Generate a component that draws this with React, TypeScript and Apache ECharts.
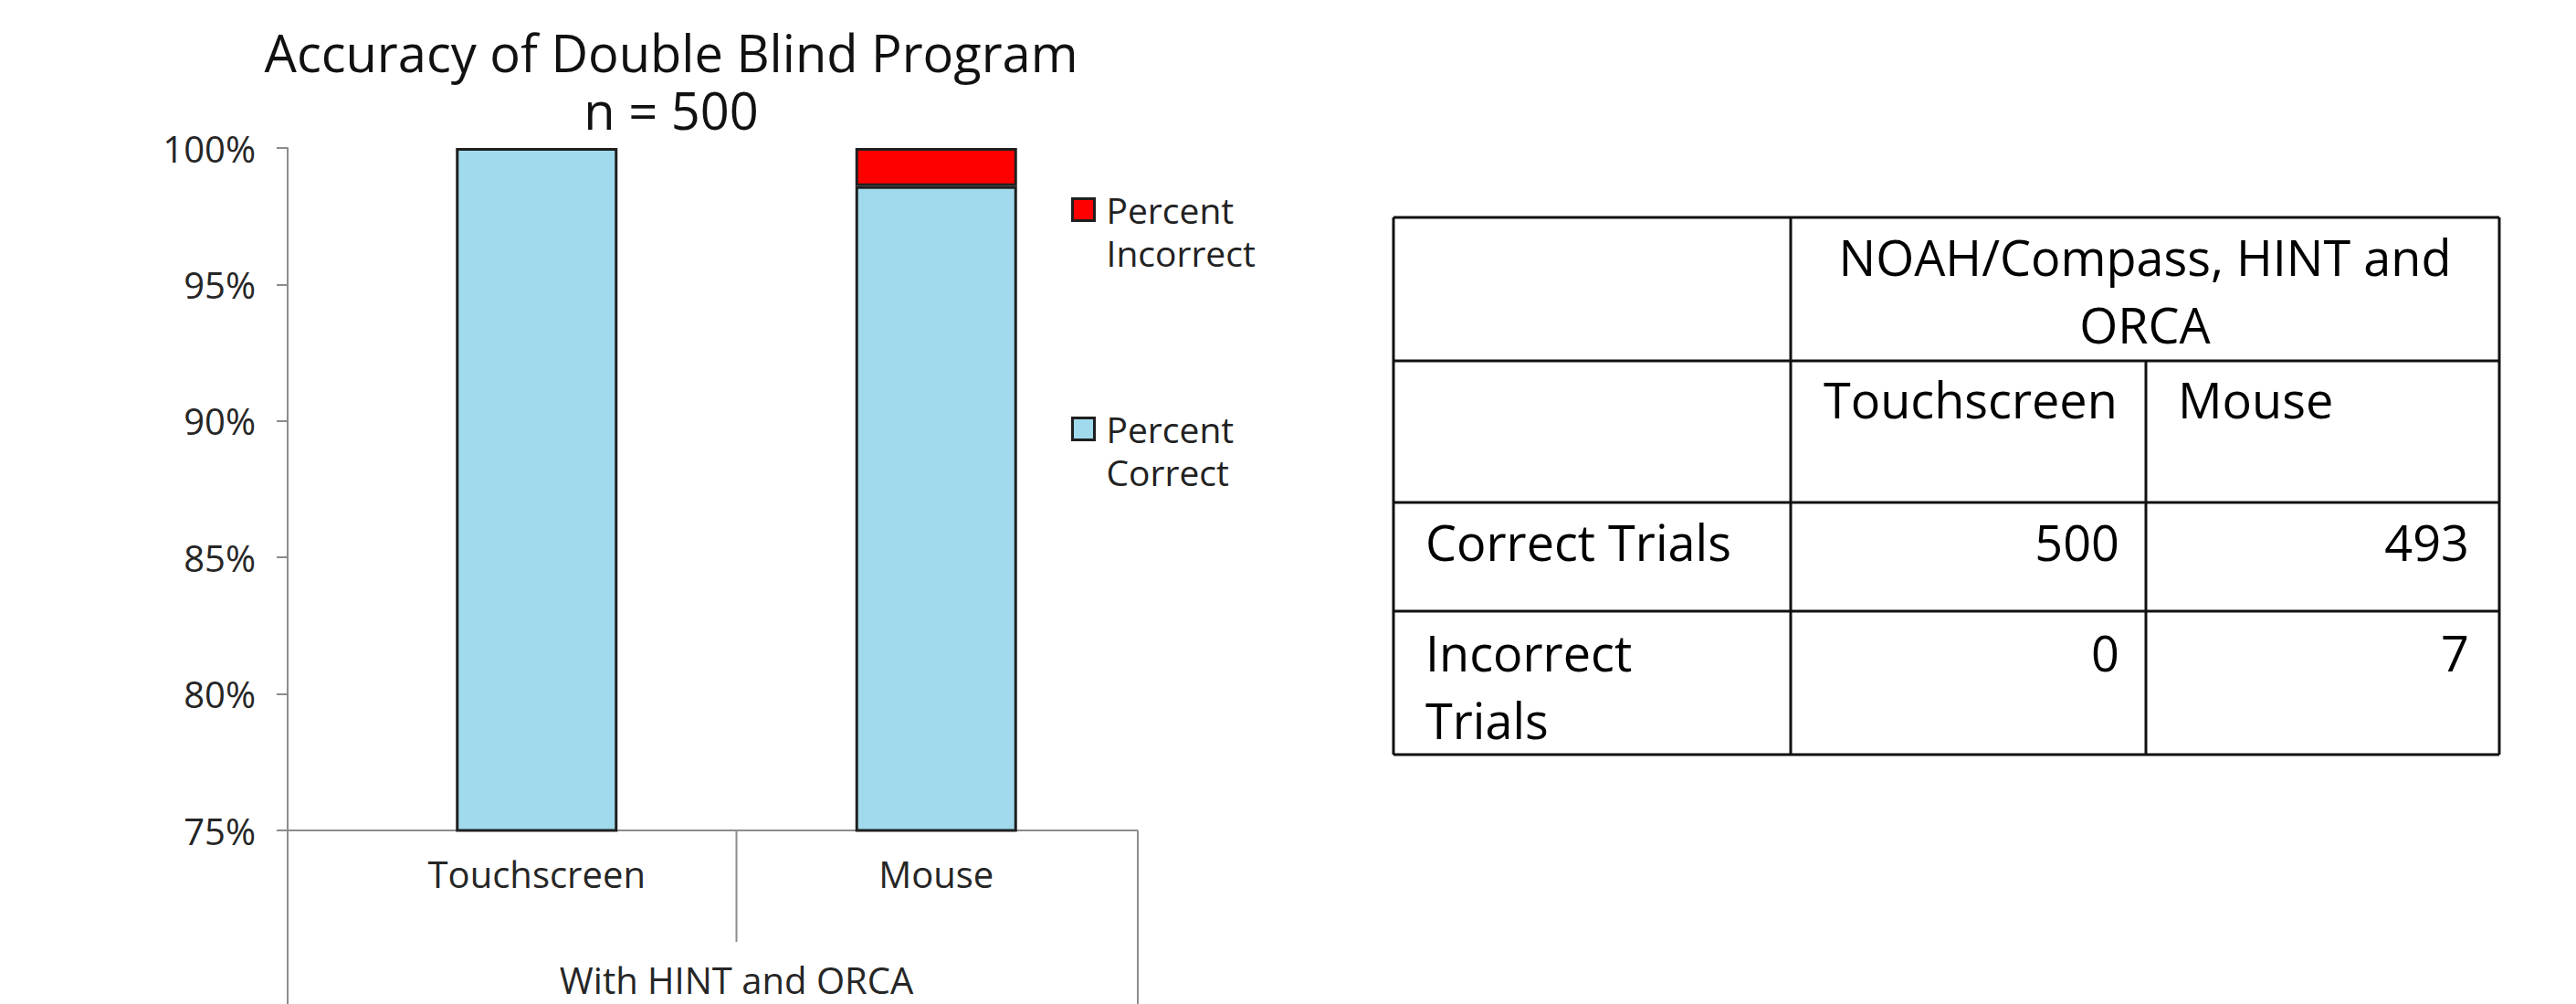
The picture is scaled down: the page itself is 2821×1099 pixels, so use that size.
import React, { useEffect, useRef } from 'react';
import * as echarts from 'echarts';

// ---------- data ----------
const categories = ['Touchscreen', 'Mouse'];
const percentCorrect = [100, 98.6];
const percentIncorrect = [0, 1.4];
const legendNames = ['Percent Incorrect', 'Percent Correct'];
const titleLines = ['Accuracy of Double Blind Program', 'n = 500'];
const groupLabel = 'With HINT and ORCA';
const yMin = 75;
const yMax = 100;
const yStep = 5;

const tableGroupHeader = 'NOAH/Compass, HINT and\nORCA';
const tableColumns = ['Touchscreen', 'Mouse'];
const tableRowLabels = ['Correct Trials', 'Incorrect\nTrials'];
const touchscreenTrials = [500, 0];
const mouseTrials = [493, 7];

// ---------- layout ----------
const W = 2821;
const H = 1099;
const FONT = "'Open Sans', 'Noto Sans', sans-serif";
const GRID = { left: 369, top: 162, right: 1244, bottom: 909 };
const YAXIS_X = 315;
const FRAME_RIGHT = 1246;
const DIVIDER_BOTTOM = 1031;
const AXIS_GRAY = '#8c8c8c';
const LABEL_COLOR = '#262626';
const BORDER = '#1f1f1f';

const TABLE = {
  left: 1526,
  right: 2737,
  top: 238,
  bottom: 826,
  col1: 1961,
  col2: 2350,
  rows: [395, 550, 669],
};
const TABLE_FONT = 54;
const TABLE_LH = 74;

function line(x1: number, y1: number, x2: number, y2: number, color: string, w: number) {
  return {
    type: 'line',
    shape: { x1, y1, x2, y2 },
    style: { stroke: color, lineWidth: w },
    silent: true,
  };
}

function text(
  str: string,
  x: number,
  y: number,
  align: string,
  size: number,
  color: string,
  lineHeight?: number
) {
  return {
    type: 'text',
    x,
    y,
    silent: true,
    style: {
      text: str,
      fontFamily: FONT,
      fontSize: size,
      lineHeight: lineHeight || size,
      fill: color,
      align,
      textAlign: align,
      verticalAlign: 'middle',
      textVerticalAlign: 'middle',
    },
  };
}

export default function App() {
  const ref = useRef<HTMLDivElement>(null);

  useEffect(() => {
    if (!ref.current) return;
    const chart = echarts.init(ref.current, undefined, { renderer: 'svg' });

    const dividerX = GRID.left + (GRID.right - GRID.left) / 2;
    const titleX = 735;

    const graphics: any[] = [
      // title
      text(titleLines[0], titleX, 57, 'center', 56, '#111'),
      text(titleLines[1], titleX, 120, 'center', 56, '#111'),
      // multi-level category frame
      line(YAXIS_X, GRID.bottom, FRAME_RIGHT, GRID.bottom, AXIS_GRAY, 2),
      line(YAXIS_X, GRID.bottom, YAXIS_X, H, AXIS_GRAY, 2),
      line(dividerX, GRID.bottom, dividerX, DIVIDER_BOTTOM, AXIS_GRAY, 2),
      line(FRAME_RIGHT, GRID.bottom, FRAME_RIGHT, H, AXIS_GRAY, 2),
      // table grid
      line(TABLE.left, TABLE.top, TABLE.right, TABLE.top, '#111', 3),
      line(TABLE.left, TABLE.bottom, TABLE.right, TABLE.bottom, '#111', 3),
      line(TABLE.left, TABLE.top, TABLE.left, TABLE.bottom, '#111', 3),
      line(TABLE.right, TABLE.top, TABLE.right, TABLE.bottom, '#111', 3),
      line(TABLE.col1, TABLE.top, TABLE.col1, TABLE.bottom, '#111', 3),
      line(TABLE.col2, TABLE.rows[0], TABLE.col2, TABLE.bottom, '#111', 3),
      ...TABLE.rows.map((y) => line(TABLE.left, y, TABLE.right, y, '#111', 3)),
      // table text
      text(tableGroupHeader, (TABLE.col1 + TABLE.right) / 2, 318, 'center', TABLE_FONT, '#000', TABLE_LH),
      text(tableColumns[0], 1997, 437, 'left', TABLE_FONT, '#000', TABLE_LH),
      text(tableColumns[1], 2385, 437, 'left', TABLE_FONT, '#000', TABLE_LH),
      text(tableRowLabels[0], 1561, 593, 'left', TABLE_FONT, '#000', TABLE_LH),
      text(tableRowLabels[1], 1561, 751, 'left', TABLE_FONT, '#000', TABLE_LH),
      text(String(touchscreenTrials[0]), 2321, 593, 'right', TABLE_FONT, '#000', TABLE_LH),
      text(String(mouseTrials[0]), 2704, 593, 'right', TABLE_FONT, '#000', TABLE_LH),
      text(String(touchscreenTrials[1]), 2321, 714, 'right', TABLE_FONT, '#000', TABLE_LH),
      text(String(mouseTrials[1]), 2704, 714, 'right', TABLE_FONT, '#000', TABLE_LH),
    ];

    chart.setOption({
      animation: false,
      backgroundColor: '#ffffff',
      grid: {
        left: GRID.left,
        top: GRID.top,
        width: GRID.right - GRID.left,
        height: GRID.bottom - GRID.top,
        containLabel: false,
      },
      legend: {
        orient: 'vertical',
        left: 1173,
        top: 159,
        padding: 0,
        data: legendNames,
        icon: 'rect',
        itemWidth: 24,
        itemHeight: 24,
        itemGap: 99,
        selectedMode: false,
        itemStyle: { borderColor: BORDER, borderWidth: 3 },
        formatter: (name: string) => ' \n' + name.replace(' ', '\n'),
        textStyle: {
          fontFamily: FONT,
          fontSize: 39,
          lineHeight: 47,
          color: '#222',
          padding: [0, 0, 0, 8],
        },
      },
      xAxis: {
        type: 'category',
        data: categories,
        axisLine: { show: false },
        axisTick: { show: false },
        splitLine: { show: false },
        axisLabel: {
          interval: 0,
          margin: 27,
          fontFamily: FONT,
          fontSize: 40,
          lineHeight: 40,
          color: LABEL_COLOR,
        },
        name: groupLabel,
        nameLocation: 'middle',
        nameGap: 145,
        nameTextStyle: {
          fontFamily: FONT,
          fontSize: 40,
          lineHeight: 36,
          color: LABEL_COLOR,
        },
      },
      yAxis: {
        type: 'value',
        min: yMin,
        max: yMax,
        interval: yStep,
        offset: GRID.left - YAXIS_X,
        axisLine: { show: true, lineStyle: { color: AXIS_GRAY, width: 2 } },
        axisTick: { show: true, length: 12, lineStyle: { color: AXIS_GRAY, width: 2 } },
        splitLine: { show: false },
        axisLabel: {
          formatter: '{value}%',
          margin: 35,
          fontFamily: FONT,
          fontSize: 40,
          color: LABEL_COLOR,
        },
      },
      series: [
        {
          name: 'Percent Correct',
          type: 'bar',
          stack: 'total',
          barWidth: 177,
          data: percentCorrect,
          itemStyle: { color: '#A0DAEC', borderColor: BORDER, borderWidth: 3 },
        },
        {
          name: 'Percent Incorrect',
          type: 'bar',
          stack: 'total',
          barWidth: 177,
          data: percentIncorrect.map((v) =>
            v === 0 ? { value: v, itemStyle: { borderWidth: 0 } } : v
          ),
          itemStyle: { color: '#FF0000', borderColor: BORDER, borderWidth: 3 },
        },
      ],
      graphic: graphics,
    });

    return () => {
      chart.dispose();
    };
  }, []);

  return (
    <div
      ref={ref}
      style={{
        position: 'fixed',
        left: 0,
        top: 0,
        width: W,
        height: H,
        background: '#fff',
      }}
    />
  );
}
